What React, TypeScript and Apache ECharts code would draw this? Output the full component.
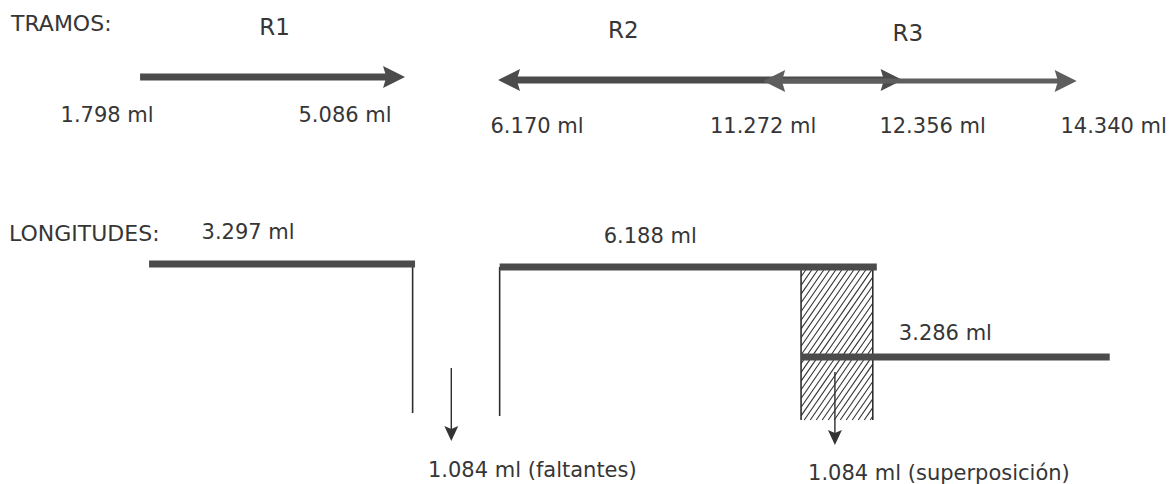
import React, { useEffect, useRef } from "react";
import * as echarts from "echarts";

// ---------------- data ----------------
// TRAMOS (sections): real chainage values in ml
const tramoNames = ["R1", "R2", "R3"];
const tramoFromMl = [1.798, 6.17, 11.272];
const tramoToMl = [5.086, 12.356, 14.34];
// where each end is drawn on the (not-to-scale) schematic axis
const tramoFromAt = [1.798, 6.24, 9.53];
const tramoToAt = [5.086, 11.26, 13.42];
const tramoRow = [7.7, 8.0, 8.1];

// LONGITUDES (lengths)
const longitudValues = [3.297, 6.188, 3.286];
const longitudFromAt = [1.91, 6.26, 10.0];
const longitudToAt = [5.21, 10.94, 13.83];
const longitudRow = [26.4, 26.7, 35.7];
const longitudLegAt = [5.18, 6.26, null];
const longitudLegTo = [41.3, 41.6, null];

// gap / overlap between pieces
const ajusteNames = ["faltantes", "superposición"];
const ajusteValues = [1.084, 1.084];
const ajusteArrowAt = [5.66, 10.42];
const ajusteArrowFrom = [36.8, 37.2];
const ajusteArrowTo = [44.1, 44.5];

// hatched overlap box [x0, x1, yTop, yBottom]
const overlapBox = [10.0, 10.89, 26.8, 42.0];

// ---------------- styles ----------------
const FONT = "'DejaVu Sans', sans-serif";
const TEXT = "#363636";
const INK = "#4b4b4b";
const THIN = "#2e2e2e";
const FS = 21;

const tramoStyle = [
  { width: 7, color: INK, startHead: false, endHead: true, nameDx: 2, nameDy: -50, fromDx: -33, fromDy: 38, toDx: -60, toDy: 38 },
  { width: 7, color: INK, startHead: true, endHead: true, nameDx: -77, nameDy: -50, fromDx: 39, fromDy: 46, toDx: 30, toDy: 46 },
  { width: 5, color: "#5e5e5e", startHead: true, endHead: true, nameDx: -12, nameDy: -48, fromDx: 0, fromDy: 45, toDx: 37, toDy: 45 },
];
const longitudStyle = [
  { labelDx: -34, labelDy: -32 },
  { labelDx: -38, labelDy: -31 },
  { labelDx: -10, labelDy: -24 },
];
const ajusteStyle = [
  { labelDx: 81, labelDy: 29 },
  { labelDx: 104, labelDy: 28 },
];

function txt(x: number, y: number, text: string, size = FS, align = "center") {
  return {
    type: "text",
    x,
    y,
    style: {
      text,
      fill: TEXT,
      fontSize: size,
      fontFamily: FONT,
      align,
      textAlign: align,
      verticalAlign: "middle",
      textVerticalAlign: "middle",
    },
  };
}

function hHead(tip: number[], dir: number, len: number, half: number, fill: string) {
  return {
    type: "polygon",
    shape: {
      points: [
        [tip[0], tip[1]],
        [tip[0] - dir * len, tip[1] - half],
        [tip[0] - dir * len * 0.85, tip[1]],
        [tip[0] - dir * len, tip[1] + half],
      ],
    },
    style: { fill },
  };
}

function vHead(tip: number[], len: number, half: number, fill: string) {
  return {
    type: "polygon",
    shape: {
      points: [
        [tip[0], tip[1]],
        [tip[0] - half, tip[1] - len],
        [tip[0], tip[1] - len * 0.8],
        [tip[0] + half, tip[1] - len],
      ],
    },
    style: { fill },
  };
}

function line(p: number[], q: number[], w: number, color: string) {
  return {
    type: "line",
    shape: { x1: p[0], y1: p[1], x2: q[0], y2: q[1] },
    style: { stroke: color, lineWidth: w, lineCap: "butt" },
  };
}

export default function App() {
  const ref = useRef<HTMLDivElement>(null);

  useEffect(() => {
    if (!ref.current) return;
    const chart = echarts.init(ref.current, undefined, { renderer: "svg" });

    const HL = 22;
    const HH = 11;

    const option = {
      animation: false,
      backgroundColor: "#ffffff",
      grid: { left: 0, right: 0, top: 0, bottom: 0 },
      xAxis: { type: "value", min: 0.06, max: 14.64, show: false },
      yAxis: { type: "value", min: 0, max: 48.4, inverse: true, show: false },
      graphic: [
        txt(11, 23, "TRAMOS:", 22, "left"),
        txt(9, 233, "LONGITUDES:", 22, "left"),
      ],
      series: [
        {
          type: "custom",
          name: "tramos",
          data: tramoNames.map((_, i) => [tramoFromAt[i], tramoToAt[i], tramoRow[i]]),
          renderItem: (params: any, api: any) => {
            const i = params.dataIndex;
            const s = tramoStyle[i];
            const a = api.coord([api.value(0), api.value(2)]);
            const b = api.coord([api.value(1), api.value(2)]);
            const x1 = s.startHead ? a[0] + HL * 0.8 : a[0];
            const x2 = s.endHead ? b[0] - HL * 0.8 : b[0];
            const children: any[] = [line([x1, a[1]], [x2, b[1]], s.width, s.color)];
            if (s.startHead) children.push(hHead(a, -1, HL, HH, s.color));
            if (s.endHead) children.push(hHead(b, 1, HL, HH, s.color));
            const mid = (a[0] + b[0]) / 2;
            children.push(txt(mid + s.nameDx, a[1] + s.nameDy, tramoNames[i], 23));
            children.push(txt(a[0] + s.fromDx, a[1] + s.fromDy, tramoFromMl[i].toFixed(3) + " ml"));
            children.push(txt(b[0] + s.toDx, b[1] + s.toDy, tramoToMl[i].toFixed(3) + " ml"));
            return { type: "group", children };
          },
        },
        {
          type: "custom",
          name: "superposicion",
          data: [overlapBox],
          renderItem: (params: any, api: any) => {
            const p0 = api.coord([api.value(0), api.value(2)]);
            const p1 = api.coord([api.value(1), api.value(3)]);
            const x0 = p0[0], y0 = p0[1], x1 = p1[0], y1 = p1[1];
            const w = x1 - x0;
            const h = y1 - y0;
            const k = 1.45; // steepness of hatch lines
            const step = 6;
            const children: any[] = [];
            for (let t = -h / k; t < w; t += step) {
              const uLo = Math.max(0, -t);
              const uHi = Math.min(h / k, w - t);
              if (uHi <= uLo) continue;
              children.push(
                line([x0 + t + uLo, y1 - k * uLo], [x0 + t + uHi, y1 - k * uHi], 1.1, "#333333")
              );
            }
            children.push(line([x0, y0], [x0, y1], 1.6, THIN));
            children.push(line([x1, y0], [x1, y1], 1.6, THIN));
            return { type: "group", children };
          },
        },
        {
          type: "custom",
          name: "longitudes",
          data: longitudValues.map((_, i) => [longitudFromAt[i], longitudToAt[i], longitudRow[i]]),
          renderItem: (params: any, api: any) => {
            const i = params.dataIndex;
            const s = longitudStyle[i];
            const a = api.coord([api.value(0), api.value(2)]);
            const b = api.coord([api.value(1), api.value(2)]);
            const children: any[] = [];
            const legAt = longitudLegAt[i];
            const legTo = longitudLegTo[i];
            if (legAt !== null && legTo !== null) {
              const top = api.coord([legAt, longitudRow[i]]);
              const bot = api.coord([legAt, legTo]);
              children.push(line(top, bot, 1.6, THIN));
            }
            children.push(line(a, b, 7, INK));
            children.push(
              txt((a[0] + b[0]) / 2 + s.labelDx, a[1] + s.labelDy, longitudValues[i].toFixed(3) + " ml")
            );
            return { type: "group", children };
          },
        },
        {
          type: "custom",
          name: "ajustes",
          data: ajusteValues.map((_, i) => [ajusteArrowAt[i], ajusteArrowFrom[i], ajusteArrowTo[i]]),
          renderItem: (params: any, api: any) => {
            const i = params.dataIndex;
            const s = ajusteStyle[i];
            const a = api.coord([api.value(0), api.value(1)]);
            const b = api.coord([api.value(0), api.value(2)]);
            const children: any[] = [
              line(a, [b[0], b[1] - 10], 1.4, THIN),
              vHead(b, 15, 7, "#333333"),
              txt(b[0] + s.labelDx, b[1] + s.labelDy, `${ajusteValues[i].toFixed(3)} ml (${ajusteNames[i]})`),
            ];
            return { type: "group", children };
          },
        },
      ],
    };

    chart.setOption(option as any);
    return () => chart.dispose();
  }, []);

  return (
    <div
      ref={ref}
      style={{ position: "absolute", left: 0, top: 0, width: 1175, height: 484, background: "#fff" }}
    />
  );
}
